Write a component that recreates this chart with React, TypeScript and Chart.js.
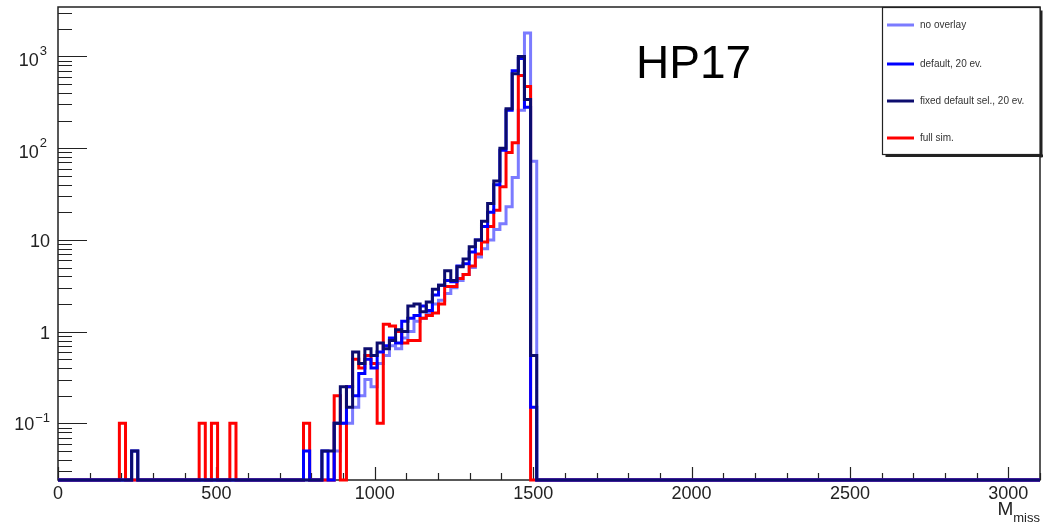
import React, { useEffect, useRef } from "react";
import { Chart, registerables } from "chart.js";

Chart.register(...registerables);

// ---- axis ranges / binning ----
const X_MIN = 0;
const X_MAX = 3100;
const N_BINS = 160;
const Y_MIN = 0.0241;
const Y_MAX = 3465;

// ---- bin contents, bins 0..79 (bins 80..159 are empty) ----
const noOverlay = [
  0, 0, 0, 0, 0, 0, 0, 0, 0, 0,
  0, 0, 0, 0, 0, 0, 0, 0, 0, 0,
  0, 0, 0, 0, 0, 0, 0, 0, 0, 0,
  0, 0, 0, 0, 0, 0, 0, 0, 0, 0,
  0, 0, 0, 0, 0, 0.05, 0.1, 0.1, 0.15, 0.2,
  0.3, 0.25, 0.45, 0.55, 0.7, 0.65, 0.85, 1.0, 1.3, 1.4,
  1.6, 2.0, 2.2, 2.6, 3.0, 3.6, 4.2, 5.0, 6.5, 8.0,
  10, 13, 15, 23, 48, 260, 1800, 72, 0, 0,
];

const defaultOverlay = [
  0, 0, 0, 0, 0, 0, 0, 0, 0, 0,
  0, 0, 0.05, 0, 0, 0, 0, 0, 0, 0,
  0, 0, 0, 0, 0, 0, 0, 0, 0, 0,
  0, 0, 0, 0, 0, 0, 0, 0, 0, 0,
  0.05, 0, 0, 0.05, 0, 0.1, 0.1, 0.25, 0.2, 0.35,
  0.5, 0.4, 0.6, 0.7, 0.85, 0.75, 1.3, 1.4, 1.5, 1.9,
  1.7, 2.5, 3.2, 3.6, 3.5, 5.2, 5.5, 7.4, 10, 14,
  20, 40, 95, 260, 700, 950, 280, 0.15, 0, 0,
];

const fixedDefault = [
  0, 0, 0, 0, 0, 0, 0, 0, 0, 0,
  0, 0, 0.05, 0, 0, 0, 0, 0, 0, 0,
  0, 0, 0, 0, 0, 0, 0, 0, 0, 0,
  0, 0, 0, 0, 0, 0, 0, 0, 0, 0,
  0, 0, 0, 0.05, 0.05, 0.1, 0.25, 0.15, 0.6, 0.45,
  0.65, 0.55, 0.75, 0.65, 0.8, 1.05, 1.0, 1.9, 2.0, 1.65,
  2.1, 2.9, 3.2, 4.6, 3.6, 5.1, 6.2, 8.4, 10, 16,
  25, 44, 100, 270, 650, 1000, 340, 0.55, 0, 0,
];

const fullSim = [
  0, 0, 0, 0, 0, 0, 0, 0, 0, 0,
  0.1, 0, 0, 0, 0, 0, 0, 0, 0, 0,
  0, 0, 0, 0.1, 0, 0.1, 0, 0, 0.1, 0,
  0, 0, 0, 0, 0, 0, 0, 0, 0, 0,
  0.1, 0, 0, 0, 0, 0.2, 0, 0.25, 0.5, 0.4,
  0.55, 0.45, 0.1, 1.2, 1.15, 1.0, 0.75, 0.8, 0.8, 1.4,
  1.5, 1.6, 2.0, 3.1, 3.1, 3.8, 4.2, 5.2, 7.0, 9.5,
  14, 21, 38, 90, 115, 620, 470, 0, 0, 0,
];

const seriesLabels = ["no overlay", "default, 20 ev.", "fixed default sel., 20 ev.", "full sim."];
const seriesColors = ["#7b7bff", "#0000ff", "#0c0c6e", "#ff0000"];
const seriesValues = [noOverlay, defaultOverlay, fixedDefault, fullSim];
const seriesOrder = [4, 2, 1, 3]; // lower = drawn on top

const xTickLabels = [0, 500, 1000, 1500, 2000, 2500, 3000];
const yTickExponents = [-1, 0, 1, 2, 3];
const titleText = "HP17";
const xAxisTitle = "M";
const xAxisTitleSub = "miss";

const FONT = '"Liberation Sans", Arial, Helvetica, sans-serif';
const BIN_WIDTH = (X_MAX - X_MIN) / N_BINS;

function histPoints(values: number[]) {
  const pts: { x: number; y: number }[] = [];
  for (let i = 0; i < N_BINS; i++) {
    const v = values[i] ?? 0;
    pts.push({ x: X_MIN + i * BIN_WIDTH, y: v > 0 ? v : Y_MIN });
  }
  const last = values[N_BINS - 1] ?? 0;
  pts.push({ x: X_MAX, y: last > 0 ? last : Y_MIN });
  return pts;
}

const rootStyle = {
  id: "rootStyle",
  beforeDatasetsDraw(chart: any) {
    const { ctx, chartArea: a, scales } = chart;
    const xs = scales.x;
    const ys = scales.y;
    ctx.save();
    ctx.strokeStyle = "#222";
    ctx.lineWidth = 1.5;
    ctx.strokeRect(a.left, a.top, a.right - a.left, a.bottom - a.top);
    ctx.lineWidth = 1.2;
    ctx.beginPath();
    for (let v = X_MIN; v <= X_MAX; v += 100) {
      const px = Math.round(xs.getPixelForValue(v)) + 0.5;
      const len = v % 500 === 0 ? 13 : 7;
      ctx.moveTo(px, a.bottom);
      ctx.lineTo(px, a.bottom - len);
    }
    for (let e = -2; e <= 3; e++) {
      for (let m = 1; m <= 9; m++) {
        const v = m * Math.pow(10, e);
        if (v < Y_MIN || v > Y_MAX) continue;
        const py = Math.round(ys.getPixelForValue(v)) + 0.5;
        const len = m === 1 ? 29 : 14;
        ctx.moveTo(a.left, py);
        ctx.lineTo(a.left + len, py);
      }
    }
    ctx.stroke();
    ctx.restore();
  },
  afterDraw(chart: any) {
    const { ctx, chartArea: a, scales } = chart;
    const xs = scales.x;
    const ys = scales.y;
    ctx.save();
    ctx.fillStyle = "#222";
    // x tick labels
    ctx.font = `18px ${FONT}`;
    ctx.textAlign = "center";
    ctx.textBaseline = "alphabetic";
    for (const v of xTickLabels) {
      ctx.fillText(String(v), xs.getPixelForValue(v), 499);
    }
    // y tick labels
    for (const e of yTickExponents) {
      const py = ys.getPixelForValue(Math.pow(10, e));
      const right = 50;
      ctx.textAlign = "right";
      if (e === 0 || e === 1) {
        ctx.font = `18px ${FONT}`;
        ctx.fillText(e === 0 ? "1" : "10", right, py + 7);
      } else {
        const sup = e < 0 ? "\u2212" + String(-e) : String(e);
        ctx.font = `13px ${FONT}`;
        const sw = ctx.measureText(sup).width;
        ctx.fillText(sup, e < 0 ? right : right - 3, py - 1);
        ctx.font = `18px ${FONT}`;
        ctx.fillText("10", (e < 0 ? right : right - 3) - sw - 1, py + (e < 0 ? 7 : 10));
      }
    }
    // axis title
    ctx.textAlign = "right";
    ctx.font = `13px ${FONT}`;
    const subW = ctx.measureText(xAxisTitleSub).width;
    ctx.fillText(xAxisTitleSub, a.right, 522);
    ctx.font = `19px ${FONT}`;
    ctx.fillText(xAxisTitle, a.right - subW, 515);
    // big title
    ctx.fillStyle = "#000";
    ctx.textAlign = "left";
    ctx.font = `46px ${FONT}`;
    ctx.fillText(titleText, 636, 78);
    // legend box
    const lx = 882.5, ly = 7.5, lw = 157.5, lh = 147;
    ctx.fillStyle = "#fff";
    ctx.fillRect(lx, ly, lw, lh);
    ctx.fillStyle = "#222";
    ctx.fillRect(lx + lw, ly + 3, 2.5, lh);
    ctx.fillRect(lx + 3, ly + lh, lw, 2.5);
    ctx.strokeStyle = "#222";
    ctx.lineWidth = 1.2;
    ctx.strokeRect(lx, ly, lw, lh);
    const rowY = [25, 64, 101, 138];
    ctx.font = `10px ${FONT}`;
    ctx.textAlign = "left";
    ctx.textBaseline = "middle";
    for (let k = 0; k < seriesLabels.length; k++) {
      ctx.strokeStyle = seriesColors[k];
      ctx.lineWidth = 3;
      ctx.beginPath();
      ctx.moveTo(887, rowY[k]);
      ctx.lineTo(914, rowY[k]);
      ctx.stroke();
      ctx.fillStyle = "#333";
      ctx.fillText(seriesLabels[k], 920, rowY[k] + 0.5);
    }
    ctx.restore();
  },
};

export default function App() {
  const canvasRef = useRef<HTMLCanvasElement | null>(null);

  useEffect(() => {
    const canvas = canvasRef.current;
    if (!canvas) return;
    const datasets = seriesLabels.map((label, k) => ({
      label,
      data: histPoints(seriesValues[k]),
      borderColor: seriesColors[k],
      backgroundColor: seriesColors[k],
      borderWidth: 3,
      pointRadius: 0,
      pointHoverRadius: 0,
      fill: false,
      stepped: "before" as const,
      tension: 0,
      order: seriesOrder[k],
      clip: 6,
    }));
    const chart = new Chart(canvas, {
      type: "line",
      data: { datasets },
      options: {
        animation: false,
        responsive: false,
        events: [],
        layout: { padding: { left: 58, right: 14, top: 7, bottom: 44 } },
        scales: {
          x: { type: "linear", min: X_MIN, max: X_MAX, display: false },
          y: { type: "logarithmic", min: Y_MIN, max: Y_MAX, display: false },
        },
        plugins: {
          legend: { display: false },
          tooltip: { enabled: false },
          title: { display: false },
        },
      },
      plugins: [rootStyle],
    });
    return () => chart.destroy();
  }, []);

  return (
    <div style={{ position: "absolute", left: 0, top: 0, width: 1054, height: 524, background: "#fff" }}>
      <canvas ref={canvasRef} width={1054} height={524} />
    </div>
  );
}
